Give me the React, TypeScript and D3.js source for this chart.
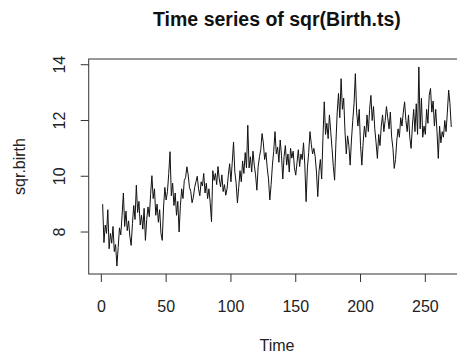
import * as d3 from 'd3';
import { useRef, useEffect } from 'react';

// sqrt of monthly births (t = 1..270)
const sqrBirth: number[] = [
  9.00, 7.62, 8.25, 7.95, 8.80, 7.40, 7.95, 7.60, 8.20, 7.30,
  7.55, 6.78, 7.45, 8.15, 7.90, 8.60, 9.40, 8.20, 8.75, 8.05,
  8.40, 7.85, 7.52, 8.30, 8.95, 8.45, 9.68, 8.70, 9.10, 8.25,
  8.60, 8.10, 8.85, 7.70, 8.45, 8.90, 8.55, 9.35, 10.02, 9.20,
  9.55, 8.60, 9.00, 8.35, 8.80, 7.95, 7.70, 8.90, 9.60, 9.15,
  9.45, 10.10, 10.88, 9.30, 9.75, 8.95, 9.40, 8.60, 9.10, 8.00,
  8.95, 9.55, 9.20, 9.85, 9.95, 10.34, 10.05, 9.60, 9.45, 9.05,
  9.25, 9.60, 9.80, 10.00, 9.55, 9.30, 9.80, 9.65, 10.10, 9.40,
  9.75, 9.20, 9.55, 9.05, 8.37, 10.20, 9.85, 10.10, 9.70, 10.35,
  9.90, 9.62, 10.05, 9.45, 9.70, 9.32, 9.55, 10.05, 10.45, 9.80,
  10.50, 11.23, 10.15, 9.75, 9.04, 9.60, 10.20, 9.80, 10.55, 10.10,
  10.85, 10.30, 11.83, 10.30, 10.70, 10.15, 10.90, 10.40, 10.05, 9.50,
  10.35, 10.70, 10.95, 11.53, 11.20, 10.60, 10.85, 10.30, 9.90, 9.15,
  9.70, 10.40, 10.90, 11.60, 10.80, 11.05, 10.50, 11.30, 10.75, 9.90,
  10.70, 11.10, 10.40, 10.80, 10.15, 11.00, 10.65, 10.90, 10.30, 10.04,
  10.50, 10.95, 10.35, 10.80, 10.60, 11.20, 10.40, 9.09, 10.30, 10.85,
  11.60, 11.15, 10.80, 11.00, 10.70, 10.15, 9.27, 10.20, 10.60, 9.90,
  11.40, 12.67, 11.50, 11.90, 11.35, 12.20, 11.60, 11.00, 10.35, 9.86,
  11.20, 12.30, 12.97, 12.10, 13.50, 12.40, 12.80, 11.60, 10.80, 11.45,
  11.10, 10.40, 11.30, 12.00, 12.60, 13.68, 12.30, 11.80, 12.40, 11.10,
  10.40, 11.20, 11.80, 11.40, 12.20, 11.60, 12.40, 12.90, 12.00, 12.50,
  11.70, 11.20, 10.64, 11.50, 11.10, 11.80, 12.20, 11.60, 12.00, 12.50,
  12.10, 11.70, 12.30, 11.40, 11.00, 10.28, 10.60, 11.30, 11.70, 11.40,
  12.10, 11.80, 12.30, 12.67, 12.00, 11.60, 12.20, 11.40, 11.00, 11.80,
  12.40, 11.60, 12.60, 11.50, 13.92, 11.70, 12.80, 11.40, 11.80, 11.50,
  12.40, 11.90, 12.90, 13.15, 12.30, 12.70, 11.80, 12.40, 11.60, 10.64,
  11.80, 11.20, 11.60, 11.40, 12.00, 11.60, 12.30, 13.09, 12.60, 11.77,
];

const xTicks = [0, 50, 100, 150, 200, 250];
const yTicks = [8, 10, 12, 14];

const W = 457;
const H = 358;
const FONT = '"Liberation Sans", Arial, sans-serif';

const App = () => {
  const ref = useRef<SVGSVGElement>(null);

  useEffect(() => {
    if (!ref.current) return;
    const svg = d3.select(ref.current);
    svg.selectAll('*').remove();

    const n = sqrBirth.length;
    // R style 4% expansion of the data range
    const tPad = (n - 1) * 0.04;
    const [lo, hi] = d3.extent(sqrBirth) as [number, number];
    const vPad = (hi - lo) * 0.04;

    const left = 88.7, right = 465.2, top = 59, bottom = 274;
    const x = d3.scaleLinear().domain([1 - tPad, n + tPad]).range([left, right]);
    const y = d3.scaleLinear().domain([lo - vPad, hi + vPad]).range([bottom, top]);

    const ink = '#222';

    const line = d3.line<number>()
      .x((_, i) => x(i + 1))
      .y(d => y(d));

    svg.append('path')
      .datum(sqrBirth)
      .attr('d', line)
      .attr('fill', 'none')
      .attr('stroke', '#111')
      .attr('stroke-width', 1);

    svg.append('rect')
      .attr('x', left).attr('y', top)
      .attr('width', right - left).attr('height', bottom - top)
      .attr('fill', 'none').attr('stroke', '#333').attr('stroke-width', 1);

    // x axis
    const gx = svg.append('g');
    gx.selectAll('line').data(xTicks).enter().append('line')
      .attr('x1', d => x(d)).attr('x2', d => x(d))
      .attr('y1', bottom).attr('y2', bottom + 8)
      .attr('stroke', '#333');
    gx.selectAll('text').data(xTicks).enter().append('text')
      .attr('x', d => x(d)).attr('y', 312)
      .attr('text-anchor', 'middle')
      .attr('font-family', FONT).attr('font-size', 16).attr('fill', ink)
      .text(d => d);

    // y axis
    const gy = svg.append('g');
    gy.selectAll('line').data(yTicks).enter().append('line')
      .attr('x1', left - 8).attr('x2', left)
      .attr('y1', d => y(d)).attr('y2', d => y(d))
      .attr('stroke', '#333');
    gy.selectAll('text').data(yTicks).enter().append('text')
      .attr('transform', d => `translate(65,${y(d)}) rotate(-90)`)
      .attr('text-anchor', 'middle')
      .attr('font-family', FONT).attr('font-size', 16).attr('fill', ink)
      .text(d => d);

    svg.append('text')
      .attr('x', (left + right) / 2).attr('y', 26)
      .attr('text-anchor', 'middle')
      .attr('font-family', FONT).attr('font-size', 19.5).attr('font-weight', 'bold')
      .attr('fill', '#111')
      .text('Time series of sqr(Birth.ts)');

    svg.append('text')
      .attr('x', (left + right) / 2).attr('y', 351)
      .attr('text-anchor', 'middle')
      .attr('font-family', FONT).attr('font-size', 16).attr('fill', ink)
      .text('Time');

    svg.append('text')
      .attr('transform', `translate(25,${(top + bottom) / 2}) rotate(-90)`)
      .attr('text-anchor', 'middle')
      .attr('font-family', FONT).attr('font-size', 16).attr('fill', ink)
      .text('sqr.birth');
  }, []);

  return (
    <svg
      ref={ref}
      width={W}
      height={H}
      style={{ position: 'absolute', left: 0, top: 0, background: '#fff' }}
    />
  );
};

export default App;
